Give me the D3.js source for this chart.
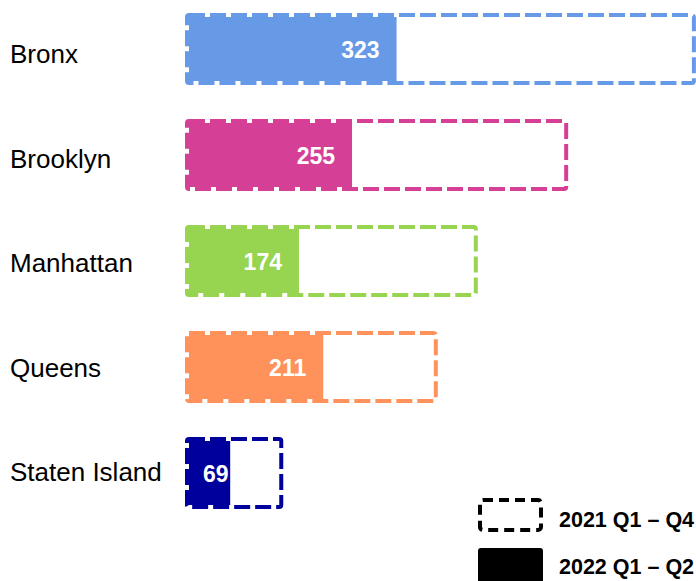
<!DOCTYPE html>
<html>
<head>
<meta charset="utf-8">
<script src="https://cdn.jsdelivr.net/npm/d3@7"></script>
<style>
  body { margin: 0; background: #fff; }
  svg { display: block; font-family: "Liberation Sans", Arial, sans-serif; }
</style>
</head>
<body>
<div class="container"></div>
<script>
// borough data
var boroughs = ["Bronx", "Brooklyn", "Manhattan", "Queens", "Staten Island"];
var full2021 = [780, 585, 447, 386, 150];   // 2021 Q1 - Q4 (dashed outline)
var half2022 = [323, 255, 174, 211, 69];    // 2022 Q1 - Q2 (filled)
var colors = ["#6699e6", "#d63f96", "#97d44f", "#ff925a", "#00009c"];
var legendLabels = ["2021 Q1 \u2013 Q4", "2022 Q1 \u2013 Q2"];

const width = 696, height = 581;
const sw = 4; // outline stroke width

var svg = d3.select(".container").append("svg")
    .attr("width", width).attr("height", height);

// x from the bars' outer left edge, y bands for each borough
let x = d3.scaleLinear().domain([0, 780]).range([185, 185 + 780 * 0.655]);
let y = d3.scaleBand().domain(boroughs).range([13, 509]).paddingInner(34 / 106).paddingOuter(0);
// name labels sit on a slightly tighter spacing than the bars
let yLabel = d3.scalePoint().domain(boroughs).range([63, 481]);

let rows = boroughs.map((b, i) => ({name: b, full: full2021[i], half: half2022[i], color: colors[i]}));

let g = svg.selectAll("g.row").data(rows).enter().append("g").attr("class", "row");

// borough names
g.append("text")
    .attr("x", 10)
    .attr("y", d => yLabel(d.name))
    .attr("font-size", "26px")
    .attr("fill", "#000")
    .text(d => d.name);

// filled 2022 bar, inset to the inner edge of the outline
g.append("rect")
    .attr("x", x(0) + sw)
    .attr("y", d => y(d.name) + sw)
    .attr("width", d => x(d.half) - x(0) - sw)
    .attr("height", y.bandwidth() - 2 * sw)
    .attr("fill", d => d.color);

// dashed 2021 outline
g.append("rect")
    .attr("x", x(0) + sw / 2)
    .attr("y", d => y(d.name) + sw / 2)
    .attr("width", d => x(d.full) - x(0) - sw)
    .attr("height", y.bandwidth() - sw)
    .attr("rx", 2)
    .attr("fill", "none")
    .attr("stroke", d => d.color)
    .attr("stroke-width", sw)
    .attr("stroke-dasharray", "16 5");

// value labels, right aligned inside the filled bar
g.append("text")
    .attr("y", d => y(d.name) + y.bandwidth() / 2 + 9)
    .attr("font-size", "23px")
    .attr("font-weight", "bold")
    .attr("fill", "#fff")
    .attr("text-anchor", "end")
    .text(d => d.half)
    .attr("x", function (d) {
        let w = this.getComputedTextLength();
        return Math.max(x(d.half) - 17, x(0) + 18 + w);
    });

// legend
let legend = svg.append("g");
legend.append("rect")
    .attr("x", 480).attr("y", 500)
    .attr("width", 61).attr("height", 30)
    .attr("rx", 3)
    .attr("fill", "none")
    .attr("stroke", "#000")
    .attr("stroke-width", sw)
    .attr("stroke-dasharray", "10 6");
legend.append("rect")
    .attr("x", 478).attr("y", 548)
    .attr("width", 65).attr("height", 40)
    .attr("rx", 3)
    .attr("fill", "#000");
legend.selectAll("text.leg").data(legendLabels).enter().append("text")
    .attr("class", "leg")
    .attr("x", 559)
    .attr("y", (d, i) => 527 + i * 47)
    .attr("font-size", "21.5px")
    .attr("font-weight", "bold")
    .attr("fill", "#000")
    .text(d => d);
</script>
</body>
</html>
